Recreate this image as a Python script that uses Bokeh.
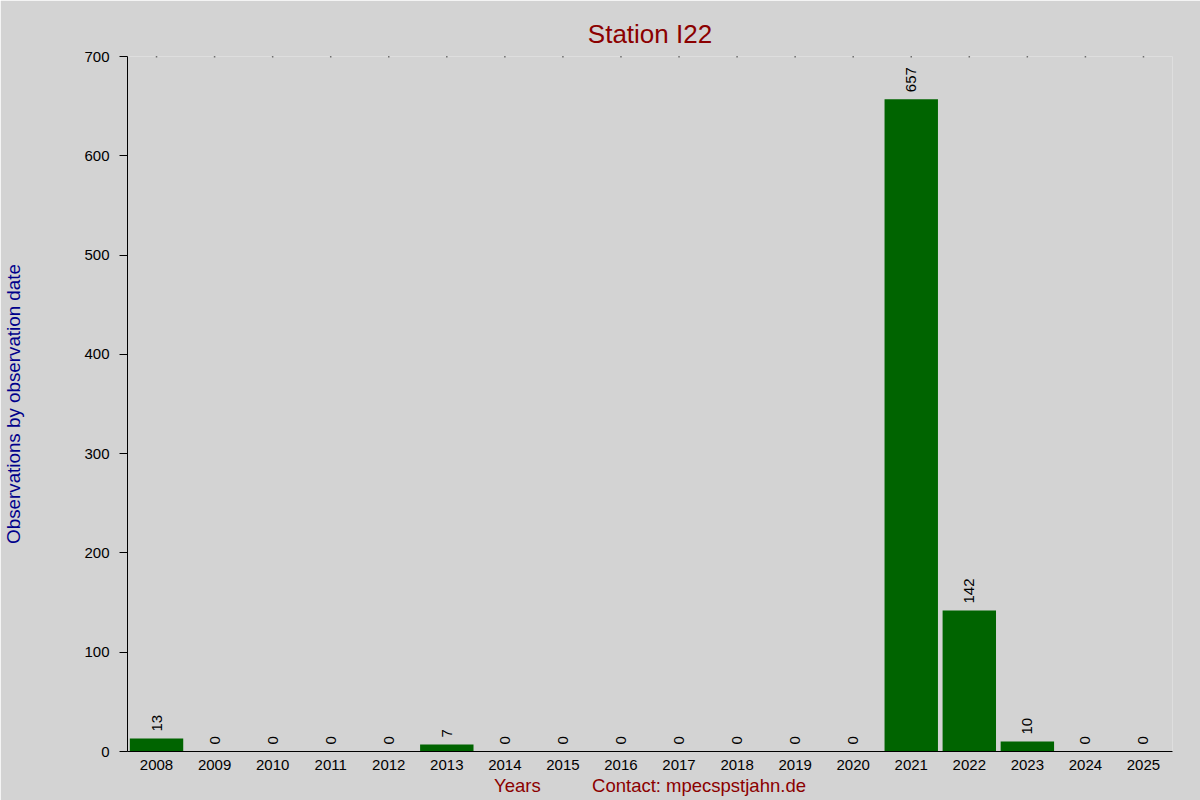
from math import pi
from bokeh.plotting import figure
from bokeh.models import (ColumnDataSource, FactorRange, Range1d, SingleIntervalTicker,
                          CategoricalAxis, FixedTicker, Title)
from bokeh.core.properties import value
from bokeh.embed import file_html
from bokeh.resources import INLINE

years = ["2008", "2009", "2010", "2011", "2012", "2013", "2014", "2015", "2016",
         "2017", "2018", "2019", "2020", "2021", "2022", "2023", "2024", "2025"]
counts = [13, 0, 0, 0, 0, 7, 0, 0, 0, 0, 0, 0, 0, 657, 142, 10, 0, 0]
y_max = 700
y_step = 100

title_text = "Station I22"
x_label = "Years" + "\u00a0" * 10 + "Contact: mpecspstjahn.de"
y_label = "Observations by observation date"

FONT = "Liberation Sans"
BG = "#d3d3d3"
BAR = "#006400"
RED = "#8b0000"
BLUE = "#00008b"

src = ColumnDataSource(dict(year=years, count=counts, label=[str(c) for c in counts],
                            top=[y_max] * len(years)))

p = figure(x_range=FactorRange(factors=years, range_padding=0),
           y_range=Range1d(0, y_max), title_location=None,
           width=1200, height=800, output_backend="svg", toolbar_location=None,
           min_border_left=126, min_border_right=28, min_border_top=56, min_border_bottom=49)

p.vbar(x="year", top="count", width=0.92, source=src, fill_color=BAR, line_color=None)
p.text(x="year", y="count", text="label", angle=pi / 2, text_align="left",
       text_baseline="middle", y_offset=-7, source=src,
       text_font=value(FONT), text_font_size="15px", text_color="black")
p.scatter(x="year", y="top", source=src, size=1.5, marker="square",
          color="black", line_color=None)

# invisible spacer axis next to the frame, then the title outside it
spacer = CategoricalAxis(ticker=FixedTicker(ticks=[]), axis_line_color=None,
                         major_tick_line_color=None, minor_tick_line_color=None,
                         major_tick_out=10, major_tick_in=0, major_label_standoff=0)
p.add_layout(spacer, "above")

title = Title(text=title_text, align="center", vertical_align="top",
              text_font=FONT, text_font_size="26px", text_font_style="normal",
              text_color=RED, standoff=12)
p.add_layout(title, "above")

p.xgrid.visible = False
p.ygrid.visible = False
p.outline_line_color = None
p.background_fill_color = BG
p.border_fill_color = BG

xa = p.below[0]
xa.major_tick_line_color = None
xa.minor_tick_line_color = None
xa.axis_line_color = "black"
xa.major_label_text_font = FONT
xa.major_label_text_font_size = "15px"
xa.major_label_text_color = "black"
xa.major_label_standoff = 2
xa.axis_label = x_label
xa.axis_label_text_font = FONT
xa.axis_label_text_font_size = "18.5px"
xa.axis_label_text_font_style = "normal"
xa.axis_label_text_color = RED
xa.axis_label_standoff = 2

ya = p.yaxis[0]
ya.ticker = SingleIntervalTicker(interval=y_step)
ya.major_tick_out = 8
ya.major_tick_in = 0
ya.minor_tick_line_color = None
ya.axis_line_color = "black"
ya.major_tick_line_color = "black"
ya.major_label_text_font = FONT
ya.major_label_text_font_size = "15px"
ya.major_label_text_color = "black"
ya.major_label_standoff = 10
ya.axis_label = y_label
ya.axis_label_text_font = FONT
ya.axis_label_text_font_size = "18.8px"
ya.axis_label_text_font_style = "normal"
ya.axis_label_text_color = BLUE
ya.axis_label_standoff = 57

open("out.html", "w").write(file_html(p, INLINE))
